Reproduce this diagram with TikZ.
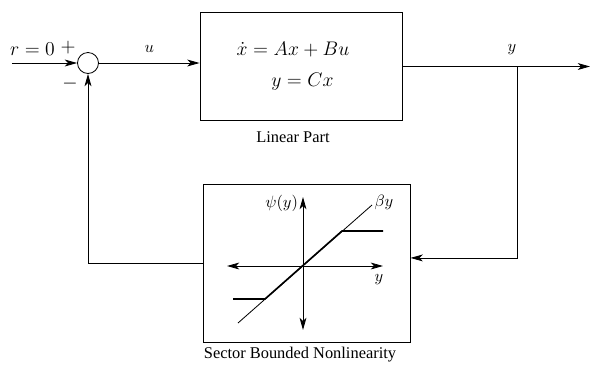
\documentclass[tikz,border=0pt]{standalone}
\usepackage{fontspec}
\setmainfont{Liberation Serif}
\usetikzlibrary{arrows.meta}

\begin{document}
\begin{tikzpicture}[x=0.61pt, y=-0.61pt, >={Stealth[length=7.5pt,width=4.2pt,inset=2pt]}, line width=0.5pt,
  block/.style={draw, line width=0.6pt, inner sep=0pt},
  sumnode/.style={draw, circle, minimum size=12.8pt, inner sep=0pt}]
\useasboundingbox (0,0) rectangle (590,366);

% ---------- Summing junction and input ----------
\coordinate (rin) at (12,63);
\node[sumnode] (sum) at (88,63) {};
\node[font=\large, inner sep=1pt] (rlabel) at (32.5,49) {$r=0$};
\node[font=\large, inner sep=1pt] (plus) at (68,48) {$+$};
\node[font=\large, inner sep=1pt] (minus) at (70,84) {$-$};
\draw[->] (rin) -- (sum.west);

% ---------- Linear part ----------
\node[block, minimum width=123.8pt, minimum height=65.3pt] (lin) at (301.5,66.5) {};
\node[font=\large, inner sep=1pt] (stateq) at (293,50) {$\dot{x}=Ax+Bu$};
\node[font=\large, inner sep=1pt] (outeq) at (302.5,82) {$y=Cx$};
\node (linlabel) at (293,137) {Linear Part};
\draw[->] (sum.east) -- node[above=3pt] (ulabel) {$u$} (sum.east -| lin.west);

% ---------- Output and branch ----------
\coordinate (yout) at (590,66.5);
\coordinate (branch) at (517,66.5);
\draw[->] (lin.east) -- (yout);
\node (ylabel) at (512,50) {$y$};

% ---------- Sector bounded nonlinearity ----------
\node[block, minimum width=125.7pt, minimum height=95.8pt] (nl) at (307,263.5) {};
\node (nllabel) at (300,355) {Sector Bounded Nonlinearity};
\draw[->] (branch) |- ([yshift=3.4pt]nl.east);
\draw[->] (nl.west) -| (sum.south);

% ---------- Characteristic inside the block ----------
\begin{scope}
  \draw[<->] (227,266) -- (383,266);
  \draw[<->] (303,330) -- (303,197);
  \draw (238,323) -- (372,205);
  \draw[line width=1pt] (233,299) -- (265,299) -- (342,231) -- (383,231);
  \node[anchor=east, inner sep=1pt] (psilabel) at (300,203) {$\psi(y)$};
  \node (betalabel) at (384,202) {$\beta y$};
  \node (yaxlabel) at (379,280) {$y$};
\end{scope}

\end{tikzpicture}
\end{document}
